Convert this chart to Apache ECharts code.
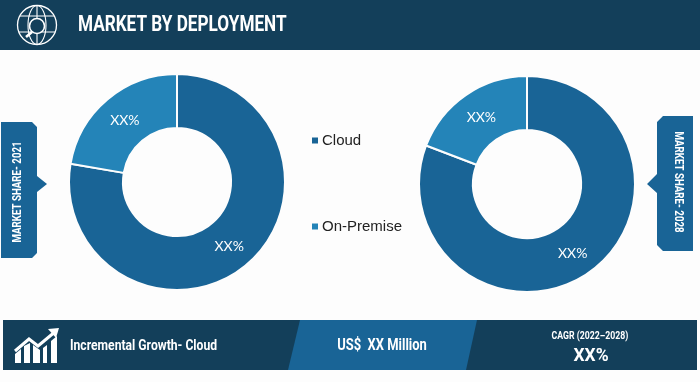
<!DOCTYPE html>
<html>
<head>
<meta charset="utf-8">
<style>
  html, body { margin: 0; padding: 0; background: #fdfdfd; }
  #main { width: 700px; height: 382px; }
</style>
<script src="https://cdn.jsdelivr.net/npm/echarts@6/dist/echarts.min.js"></script>
</head>
<body>
<div id="main"></div>
<script>
var categories = ['Cloud', 'On-Premise'];
var share2021 = [77.7, 22.3];
var share2028 = [80.8, 19.2];
var sliceLabels = ['XX%', 'XX%'];
var colors = ['#196496', '#2484b8'];

var navy = '#133f5a';
var blue = '#196496';
var condensed = 'Roboto, sans-serif';

function donut(center, values) {
  return {
    type: 'pie',
    center: center,
    radius: [54, 108],
    startAngle: 90,
    clockwise: true,
    silent: true,
    itemStyle: { borderColor: '#fdfdfd', borderWidth: 2 },
    label: {
      position: 'inside',
      color: '#fff',
      fontFamily: 'Lato',
      fontSize: 14,
      formatter: function (p) { return sliceLabels[p.dataIndex]; }
    },
    labelLine: { show: false },
    data: categories.map(function (c, i) {
      return {
        name: c,
        value: values[i],
        itemStyle: { color: colors[i] },
        label: { offset: i === 0 ? [-2, 0] : [2, 3] }
      };
    })
  };
}

// the banner type is a condensed face, so Roboto Bold gets squeezed along x
function txt(x, y, text, size, squeeze, opts) {
  opts = opts || {};
  return {
    type: 'text', x: x, y: y, rotation: opts.rotation || 0, scaleX: squeeze, z: 10,
    style: {
      text: text, fill: '#fff', fontFamily: condensed, fontWeight: 'bold', fontSize: size,
      align: opts.align || 'left', verticalAlign: 'middle'
    }
  };
}

function line(shape) {
  return { type: 'polyline', z: 10, shape: { points: shape }, style: { stroke: '#fff', lineWidth: 1.1, fill: null } };
}

var chart = echarts.init(document.getElementById('main'));
chart.setOption({
  backgroundColor: '#fdfdfd',
  animation: false,
  color: colors,
  legend: {
    orient: 'vertical',
    left: 305,
    top: 128,
    itemWidth: 8,
    itemHeight: 8,
    itemGap: 71,
    icon: 'rect',
    selectedMode: false,
    data: categories,
    textStyle: { color: '#222', fontFamily: 'Liberation Sans', fontSize: 15, padding: [0, 0, 0, -2] }
  },
  series: [donut([177, 182], share2021), donut([527, 184], share2028)],
  graphic: [
    // header band
    { type: 'rect', z: 1, shape: { x: 0, y: 0, width: 700, height: 50 }, style: { fill: navy } },
    { type: 'circle', z: 10, shape: { cx: 37, cy: 25, r: 19.5 }, style: { stroke: '#fff', lineWidth: 1.3, fill: null } },
    { type: 'ellipse', z: 10, shape: { cx: 37, cy: 25, rx: 9, ry: 19.5 }, style: { stroke: '#fff', lineWidth: 1.1, fill: null } },
    line([[20, 16], [54, 16]]),
    line([[19, 32], [55, 32]]),
    line([[37, 6], [37, 44]]),
    { type: 'circle', z: 11, shape: { cx: 37, cy: 26, r: 7.5 }, style: { stroke: '#fff', lineWidth: 1.6, fill: navy } },
    { type: 'line', z: 11, shape: { x1: 32, y1: 32, x2: 26, y2: 37 }, style: { stroke: '#fff', lineWidth: 2.6 } },
    txt(78, 25, 'MARKET BY DEPLOYMENT', 22, 0.78),

    // side tabs
    { type: 'polygon', z: 1, shape: { points: [[1, 122], [32, 122], [37, 127], [37, 176], [47, 184], [37, 192], [37, 253], [32, 258], [1, 258]] }, style: { fill: blue } },
    txt(18, 192, 'MARKET SHARE- 2021', 12, 0.81, { rotation: Math.PI / 2, align: 'center' }),
    { type: 'polygon', z: 1, shape: { points: [[693, 116], [663, 116], [657, 122], [657, 174], [647, 184], [657, 193], [657, 245], [663, 251], [693, 251]] }, style: { fill: blue } },
    txt(678, 182, 'MARKET SHARE- 2028', 12, 0.81, { rotation: -Math.PI / 2, align: 'center' }),

    // bottom band
    { type: 'rect', z: 1, shape: { x: 3, y: 320, width: 694, height: 50 }, style: { fill: navy } },
    { type: 'polygon', z: 2, shape: { points: [[300, 320], [477, 320], [466, 370], [288, 370]] }, style: { fill: blue } },
    { type: 'polyline', z: 10, shape: { points: [[15, 351], [29, 339], [38, 346], [56, 331]] }, style: { stroke: '#fff', lineWidth: 3, fill: null } },
    { type: 'polygon', z: 10, shape: { points: [[48, 329], [59, 328], [56, 338]] }, style: { fill: '#fff' } },
    { type: 'polygon', z: 10, shape: { points: [[15, 363], [15, 354], [21, 349], [21, 363]] }, style: { fill: '#fff' } },
    { type: 'polygon', z: 10, shape: { points: [[24, 363], [24, 346], [30, 343], [30, 363]] }, style: { fill: '#fff' } },
    { type: 'polygon', z: 10, shape: { points: [[33, 363], [33, 345], [40, 350], [40, 363]] }, style: { fill: '#fff' } },
    { type: 'polygon', z: 10, shape: { points: [[43, 363], [43, 348], [47, 345], [47, 363]] }, style: { fill: '#fff' } },
    { type: 'polygon', z: 10, shape: { points: [[51, 363], [51, 341], [57, 336], [57, 363]] }, style: { fill: '#fff' } },
    txt(70, 346, 'Incremental Growth- Cloud', 15, 0.81),
    txt(382, 346, 'US$  XX Million', 16, 0.81, { align: 'center' }),
    txt(590, 336, 'CAGR (2022\u20132028)', 10.5, 0.83, { align: 'center' }),
    txt(591, 356, 'XX%', 19, 0.92, { align: 'center' })
  ]
});
</script>
</body>
</html>
